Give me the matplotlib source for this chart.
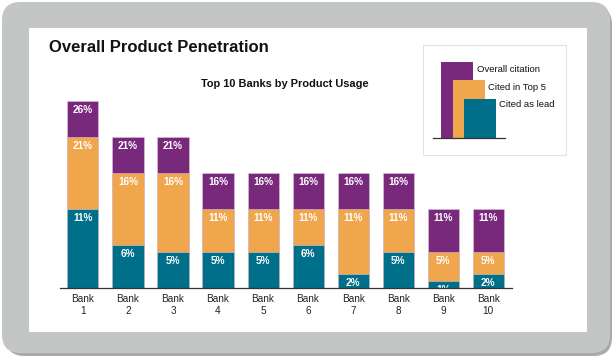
import matplotlib
matplotlib.use("Agg")
import matplotlib.pyplot as plt
from matplotlib.patches import FancyBboxPatch, Rectangle
from matplotlib.lines import Line2D

plt.rcParams['font.family'] = ['Liberation Sans', 'DejaVu Sans']

banks = ["Bank\n1", "Bank\n2", "Bank\n3", "Bank\n4", "Bank\n5",
         "Bank\n6", "Bank\n7", "Bank\n8", "Bank\n9", "Bank\n10"]
overall = [26, 21, 21, 16, 16, 16, 16, 16, 11, 11]
top5 = [21, 16, 16, 11, 11, 11, 11, 11, 5, 5]
lead = [11, 6, 5, 5, 5, 6, 2, 5, 1, 2]
series_names = ["Overall citation", "Cited in Top 5", "Cited as lead"]

PURPLE = "#78297C"
ORANGE = "#EFA64C"
TEAL = "#006F89"

W, H = 615, 359
fig = plt.figure(figsize=(W / 100, H / 100), dpi=100)
fig.patch.set_facecolor("white")

def fx(x):
    return x / W

def fy(y):
    return 1 - y / H

# outer frame with shadow
shadow = FancyBboxPatch((fx(6), fy(356)), fx(612) - fx(6), fy(6) - fy(356),
                        boxstyle="round,pad=0,rounding_size=0.03",
                        transform=fig.transFigure, facecolor="#A9ABAA",
                        edgecolor="none", zorder=0, mutation_aspect=W / H)
fig.patches.append(shadow)
frame = FancyBboxPatch((fx(2), fy(353)), fx(610) - fx(2), fy(2) - fy(353),
                       boxstyle="round,pad=0,rounding_size=0.03",
                       transform=fig.transFigure, facecolor="#C4C6C5",
                       edgecolor="none", zorder=0, mutation_aspect=W / H)
fig.patches.append(frame)
panel = Rectangle((fx(29), fy(332)), fx(587) - fx(29), fy(28) - fy(332),
                  transform=fig.transFigure, facecolor="white",
                  edgecolor="none", zorder=0)
fig.patches.append(panel)

# main axes
ax = fig.add_axes([fx(60), fy(288), fx(512) - fx(60), fy(95) - fy(288)])
ax.set_zorder(5)
ax.set_facecolor("none")
x = list(range(len(banks)))
bw = 0.69
for vals, col in [(overall, PURPLE), (top5, ORANGE), (lead, TEAL)]:
    ax.bar(x, vals, width=bw, color=col, edgecolor="#D9C6DA", linewidth=0.4,
           zorder=2)
    for xi, v in zip(x, vals):
        ax.annotate(f"{v}%", (xi, v), xytext=(0, -9), textcoords="offset pixels",
                    ha="center", va="center", color="white", fontsize=7.2,
                    fontweight="bold", zorder=4, annotation_clip=False,
                    clip_on=True)

ax.set_xlim(-0.51, 9.53)
ax.set_ylim(0, 26.8)
ax.set_xticks(x)
ax.set_xticklabels(banks, fontsize=7.2, color="#222222", linespacing=1.3)
ax.tick_params(axis="x", length=0, pad=4)
ax.set_yticks([])
for s in ["top", "right", "left"]:
    ax.spines[s].set_visible(False)
ax.spines["bottom"].set_color("#333333")
ax.spines["bottom"].set_linewidth(0.9)
ax.spines["bottom"].set_zorder(5)

# titles
fig.text(fx(49), fy(48), "Overall Product Penetration", fontsize=12,
         fontweight="bold", ha="left", va="center", color="#111111")
fig.text(fx(285), fy(84), "Top 10 Banks by Product Usage", fontsize=7.9,
         fontweight="bold", ha="center", va="center", color="#111111")

# legend box
lbox = Rectangle((fx(423), fy(155)), fx(566) - fx(423), fy(45) - fy(155),
                 transform=fig.transFigure, facecolor="white",
                 edgecolor="#E2E2E2", linewidth=0.8, zorder=1)
fig.patches.append(lbox)
leg_cols = [PURPLE, ORANGE, TEAL]
leg_left = [441, 453, 464]
leg_top = [62, 80, 99]
leg_text_x = [477, 488, 499]
leg_text_y = [69, 87, 104]
leg_base = 138
for name, col, lx, lt, tx, ty in zip(series_names, leg_cols, leg_left, leg_top,
                                     leg_text_x, leg_text_y):
    fig.patches.append(Rectangle((fx(lx), fy(leg_base)), fx(32), fy(lt) - fy(leg_base),
                                 transform=fig.transFigure, facecolor=col,
                                 edgecolor="none", zorder=2))
    fig.text(fx(tx), fy(ty), name, fontsize=6.8, ha="left",
             va="center", color="#111111", zorder=3)
fig.lines.append(Line2D([fx(433), fx(505)], [fy(leg_base), fy(leg_base)],
                        transform=fig.transFigure, color="#333333",
                        linewidth=0.9, zorder=3))

fig.savefig("out.png", dpi=100, facecolor="white")
